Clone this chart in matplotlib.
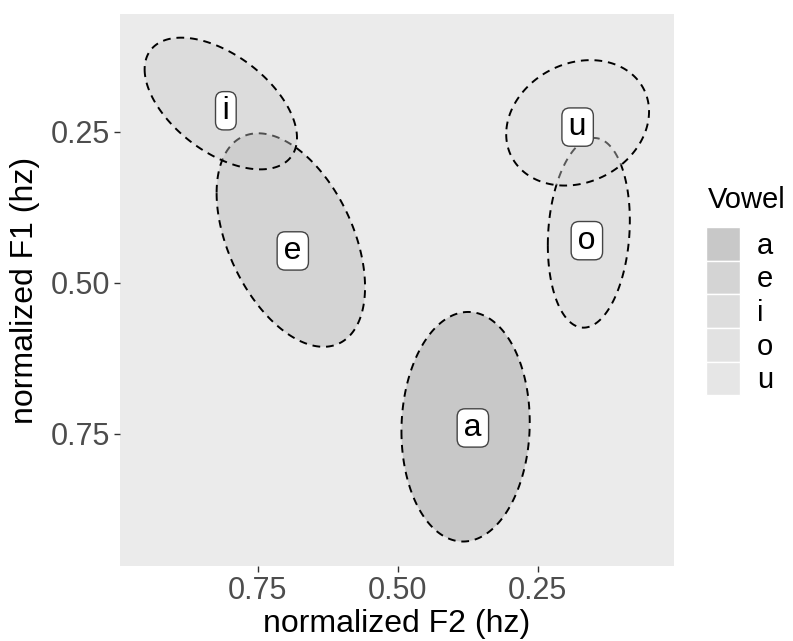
import numpy as np
import matplotlib
matplotlib.use("Agg")
import matplotlib.pyplot as plt
from matplotlib.patches import Patch

# vowel ellipses (normalized formant space)
vowels = ["a", "e", "i", "o", "u"]
f2_center = [0.379, 0.691, 0.816, 0.159, 0.179]
f1_center = [0.738, 0.429, 0.203, 0.417, 0.235]
f2_radius = [0.1145, 0.1325, 0.136, 0.0732, 0.1275]
f1_radius = [0.190, 0.1767, 0.109, 0.157, 0.1038]
corr = [0.04, -0.44, -0.52, 0.13, 0.18]
label_f2 = [0.366, 0.6875, 0.807, 0.1625, 0.179]
label_f1 = [0.740, 0.447, 0.215, 0.430, 0.242]
fill_grey = [0.58, 0.70, 0.78, 0.83, 0.87]

PANEL = 235 / 255
ALPHA = 0.4

plt.rcParams["font.family"] = ["Liberation Sans", "DejaVu Sans"]

fig = plt.figure(figsize=(7.93, 6.41), dpi=100)
ax = fig.add_axes([0.1513, 0.117, 0.6986, 0.861])
ax.set_facecolor((PANEL, PANEL, PANEL))
for s in ax.spines.values():
    s.set_visible(False)

t = np.linspace(0, 2 * np.pi, 200)
for i, v in enumerate(vowels):
    r = corr[i]
    x = f2_center[i] + f2_radius[i] * np.cos(t)
    y = f1_center[i] + f1_radius[i] * (r * np.cos(t) + np.sqrt(1 - r * r) * np.sin(t))
    g = fill_grey[i]
    ax.fill(x, y, facecolor=(g, g, g, ALPHA), edgecolor="black",
            linestyle=(0, (4, 3)), linewidth=1.4, zorder=2 + i)

for i, v in enumerate(vowels):
    ax.text(label_f2[i], label_f1[i], "\u200a" + v + "\u200a", fontsize=23,
            ha="center", va="center", zorder=10,
            bbox=dict(boxstyle="round,pad=0.13,rounding_size=0.25",
                      facecolor="white", edgecolor="#444444", linewidth=1))

ax.set_xlim(0.996, 0.007)
ax.set_ylim(0.9685, 0.055)
ax.set_xticks([0.75, 0.50, 0.25])
ax.set_xticklabels(["0.75", "0.50", "0.25"])
ax.set_yticks([0.25, 0.50, 0.75])
ax.set_yticklabels(["0.25", "0.50", "0.75"])
ax.tick_params(colors="#333333", labelcolor="#4D4D4D", labelsize=22,
               length=4, width=1, pad=3)
ax.set_xlabel("normalized F2 (hz)", fontsize=23, labelpad=2)
ax.set_ylabel("normalized F1 (hz)", fontsize=23, labelpad=8)

# legend keys are drawn over the grey key background
handles = []
for i, v in enumerate(vowels):
    c = ALPHA * fill_grey[i] + (1 - ALPHA) * PANEL
    handles.append(Patch(facecolor=(c, c, c), edgecolor="white", linewidth=1))
fig.text(708 / 793, 1 - 200 / 641, "Vowel", fontsize=21, ha="left", va="center")
leg = fig.legend(handles, vowels, loc="upper left",
                 bbox_to_anchor=(706 / 793, 1 - 227 / 641), frameon=False,
                 fontsize=21, handlelength=1.15,
                 handleheight=1.4, labelspacing=0.0, handletextpad=0.6,
                 borderpad=0, borderaxespad=0)

fig.savefig("out.png", dpi=100)
